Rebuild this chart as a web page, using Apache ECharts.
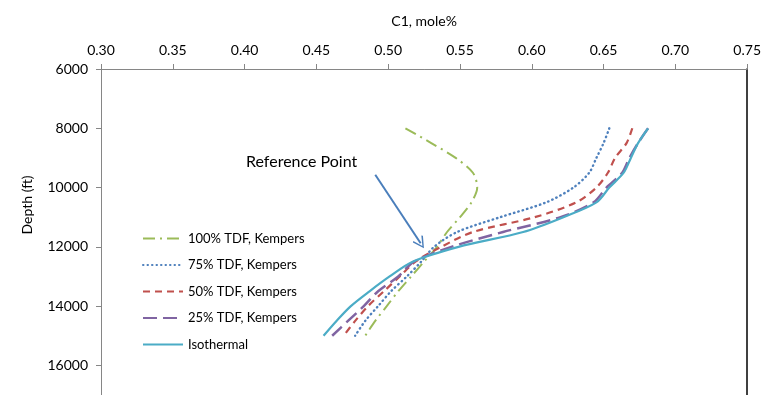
<!DOCTYPE html>
<html>
<head>
<meta charset="utf-8">
<style>
  html, body { margin: 0; padding: 0; background: #fff; }
  #charts { width: 764px; height: 395px; }
</style>
<script src="https://cdn.jsdelivr.net/npm/echarts@6.0.0/dist/echarts.min.js"></script>
</head>
<body>
<div id="charts"></div>
<script>
// 深度 (ft)
var depths = [8000, 8500, 9000, 9500, 10000, 10500, 11000, 11500, 12000, 12500, 13000, 13500, 14000, 14500, 15000];
// C1, mole% 各曲线
var tdf100 = [0.512, 0.530, 0.547, 0.559, 0.562, 0.558, 0.550, 0.541, 0.534, 0.525, 0.516, 0.507, 0.499, 0.491, 0.484];
var tdf75 = [0.654, 0.650, 0.645, 0.640, 0.629, 0.610, 0.578, 0.548, 0.532, 0.523, 0.513, 0.502, 0.493, 0.484, 0.477];
var tdf50 = [0.670, 0.666, 0.658, 0.653, 0.645, 0.631, 0.602, 0.559, 0.537, 0.519, 0.508, 0.497, 0.486, 0.477, 0.469];
var tdf25 = [0.681, 0.674, 0.668, 0.663, 0.652, 0.643, 0.620, 0.580, 0.544, 0.518, 0.507, 0.493, 0.483, 0.472, 0.461];
var isothermal = [0.681, 0.674, 0.669, 0.664, 0.654, 0.645, 0.622, 0.594, 0.549, 0.517, 0.501, 0.487, 0.474, 0.464, 0.455];
var names = ['100% TDF, Kempers', '75% TDF, Kempers', '50% TDF, Kempers', '25% TDF, Kempers', 'Isothermal'];
var xTicks = [0.30, 0.75, 0.05];
var yTicks = [6000, 17000, 2000];
// 箭头 (Reference Point)
var arrowFrom = [0.491, 9570];
var arrowTo = [0.5226, 11880];

function pairs(vals) {
  return vals.map(function (v, i) { return [v, depths[i]]; });
}

var myChart = echarts.init(document.getElementById('charts'));
var font = 'Lato, "DejaVu Sans", sans-serif';

var styles = [
  { color: '#9bbb59', width: 2, type: [12, 5, 2, 5] },
  { color: '#4f81bd', width: 2.4, type: [0.5, 4], cap: 'round' },
  { color: '#c0504d', width: 2.2, type: [7, 5] },
  { color: '#8064a2', width: 2.5, type: [14, 6] },
  { color: '#4bacc6', width: 2.2, type: 'solid' }
];
var allData = [tdf100, tdf75, tdf50, tdf25, isothermal];

var series = allData.map(function (vals, i) {
  return {
    name: names[i],
    type: 'line',
    data: pairs(vals),
    symbol: 'none',
    smooth: 0.3,
    color: styles[i].color,
    lineStyle: styles[i]
  };
});

// 箭头用 markLine 画
series[4].markLine = {
  silent: true,
  symbol: ['none', 'path://M0,0 L6,10 L4.8,11 L0,2.6 L-4.8,11 L-6,10 Z'],
  symbolSize: [12, 12],
  label: { show: false },
  lineStyle: { color: '#4a7ebb', width: 2, type: 'solid' },
  data: [[{ coord: arrowFrom }, { coord: arrowTo }]]
};

var option = {
  animation: false,
  textStyle: { fontFamily: font },
  grid: { left: 101, right: 14, top: 69, height: 329 },
  legend: {
    orient: 'vertical',
    left: 137,
    top: 227,
    itemWidth: 40,
    itemHeight: 14,
    itemGap: 13.5,
    itemStyle: { opacity: 0 },
    textStyle: { fontFamily: font, fontSize: 13, color: '#000' },
    data: names
  },
  xAxis: {
    type: 'value',
    position: 'top',
    min: xTicks[0],
    max: xTicks[1],
    interval: xTicks[2],
    name: 'C1, mole%',
    nameLocation: 'middle',
    nameGap: 41,
    nameTextStyle: { fontFamily: font, fontSize: 14, color: '#000' },
    axisLine: { lineStyle: { color: '#868686', width: 1 } },
    axisTick: { show: true, length: 5, lineStyle: { color: '#868686' } },
    axisLabel: {
      margin: 12,
      fontFamily: font, fontSize: 14, color: '#000',
      formatter: function (v) { return v.toFixed(2); }
    },
    splitLine: { show: false }
  },
  yAxis: [{
    type: 'value',
    inverse: true,
    min: yTicks[0],
    max: yTicks[1],
    interval: yTicks[2],
    axisLine: { show: true, lineStyle: { color: '#868686', width: 1 } },
    axisTick: { show: true, length: 5, lineStyle: { color: '#868686' } },
    axisLabel: {
      margin: 13,
      fontFamily: font, fontSize: 14, color: '#000',
      formatter: function (v) { return v > 16000 ? '' : String(v); }
    },
    splitLine: { show: false }
  }, {
    // 右边框
    type: 'value',
    position: 'right',
    inverse: true,
    min: yTicks[0],
    max: yTicks[1],
    axisLine: { show: true, lineStyle: { color: '#000', width: 1.5 } },
    axisTick: { show: false },
    axisLabel: { show: false },
    splitLine: { show: false }
  }],
  graphic: [{
    type: 'text',
    x: 27,
    y: 205,
    rotation: Math.PI / 2,
    style: { text: 'Depth (ft)', font: '14px ' + font, fill: '#000', textAlign: 'center', textVerticalAlign: 'middle' }
  }, {
    type: 'text',
    x: 246,
    y: 162,
    style: { text: 'Reference Point', font: '16px ' + font, fill: '#000', textAlign: 'left', textVerticalAlign: 'middle' }
  }],
  series: series
};

myChart.setOption(option);
</script>
</body>
</html>
